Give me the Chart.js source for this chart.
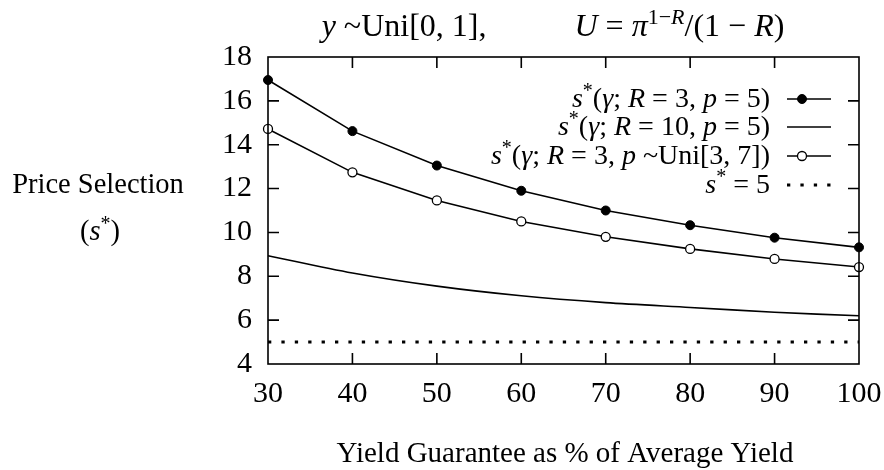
<!DOCTYPE html>
<html>
<head>
<meta charset="utf-8">
<script src="https://cdn.jsdelivr.net/npm/chart.js@4.4.1/dist/chart.umd.min.js"></script>
<style>
  html, body { margin: 0; padding: 0; background: #fff; }
</style>
</head>
<body>
<canvas id="priceChart" width="884" height="470"></canvas>
<script>
// data
const yieldGuarantee = [30, 40, 50, 60, 70, 80, 90, 100];
const sR3p5 = [16.95, 14.62, 13.05, 11.9, 11.0, 10.33, 9.76, 9.32];
const sR10p5 = [8.94, 8.15, 7.55, 7.11, 6.8, 6.58, 6.36, 6.2];
const sR3pUni = [14.72, 12.74, 11.46, 10.5, 9.8, 9.25, 8.79, 8.42];
const sFlat = [5, 5, 5, 5, 5, 5, 5, 5];
const xTicks = [30, 40, 50, 60, 70, 80, 90, 100];
const yTicks = [4, 6, 8, 10, 12, 14, 16, 18];

const FONT = '"Liberation Serif", "Times New Roman", serif';
const toPts = (vals) => vals.map((v, i) => ({ x: yieldGuarantee[i], y: v }));

// legend labels as rich text segments (i = italic, s = superscript)
const legendLabels = [
    [{ t: 's', i: 1 }, { t: '*', s: 1 }, { t: '(' }, { t: 'γ', i: 1 }, { t: '; ' }, { t: 'R', i: 1 }, { t: ' = 3, ' }, { t: 'p', i: 1 }, { t: ' = 5)' }],
    [{ t: 's', i: 1 }, { t: '*', s: 1 }, { t: '(' }, { t: 'γ', i: 1 }, { t: '; ' }, { t: 'R', i: 1 }, { t: ' = 10, ' }, { t: 'p', i: 1 }, { t: ' = 5)' }],
    [{ t: 's', i: 1 }, { t: '*', s: 1 }, { t: '(' }, { t: 'γ', i: 1 }, { t: '; ' }, { t: 'R', i: 1 }, { t: ' = 3, ' }, { t: 'p', i: 1 }, { t: ' ~Uni[3, 7])' }],
    [{ t: 's', i: 1 }, { t: '*', s: 1 }, { t: ' = 5' }]
];
const titleSegs = [
    { t: 'y', i: 1 }, { t: ' ~Uni[0, 1],' }, { t: '           ' }, { t: 'U', i: 1 }, { t: ' = ' },
    { t: 'π', i: 1 }, { t: '1−', s: 1 }, { t: 'R', i: 1, s: 1 }, { t: '/(1 − ' }, { t: 'R', i: 1 }, { t: ')' }
];

function drawRich(ctx, segs, x, y, size, align) {
    const fontFor = s => `${s.i ? 'italic ' : ''}${s.s ? Math.round(size * 0.7) : size}px ${FONT}`;
    let w = 0;
    segs.forEach(s => { ctx.font = fontFor(s); w += ctx.measureText(s.t).width; });
    let cx = align === 'right' ? x - w : (align === 'center' ? x - w / 2 : x);
    ctx.textAlign = 'left';
    ctx.textBaseline = 'alphabetic';
    segs.forEach(s => {
        ctx.font = fontFor(s);
        ctx.fillText(s.t, cx, s.s ? y - size * 0.36 : y);
        cx += ctx.measureText(s.t).width;
    });
}

// frame, inward ticks, titles and the legend
const decorations = {
    id: 'decorations',
    afterDraw(chart) {
        const { ctx, chartArea: a, scales: { x, y } } = chart;
        ctx.save();
        ctx.strokeStyle = '#000';
        ctx.fillStyle = '#000';
        ctx.lineWidth = 1.6;
        ctx.strokeRect(a.left, a.top, a.right - a.left, a.bottom - a.top);

        const tl = 11;
        ctx.beginPath();
        xTicks.slice(1, -1).forEach(v => {
            const px = x.getPixelForValue(v);
            ctx.moveTo(px, a.bottom); ctx.lineTo(px, a.bottom - tl);
            ctx.moveTo(px, a.top); ctx.lineTo(px, a.top + tl);
        });
        yTicks.slice(1, -1).forEach(v => {
            const py = y.getPixelForValue(v);
            ctx.moveTo(a.left, py); ctx.lineTo(a.left + tl, py);
            ctx.moveTo(a.right, py); ctx.lineTo(a.right - tl, py);
        });
        ctx.stroke();

        drawRich(ctx, titleSegs, 553, 36, 32, 'center');
        drawRich(ctx, [{ t: 'Price Selection' }], 98, 193, 28.5, 'center');
        drawRich(ctx, [{ t: '(' }, { t: 's', i: 1 }, { t: '*', s: 1 }, { t: ')' }], 100, 240, 28.5, 'center');
        drawRich(ctx, [{ t: 'Yield Guarantee as % of Average Yield' }], 565, 462, 29, 'center');

        // legend
        const baselines = [107, 135, 164, 193];
        chart.data.datasets.forEach((ds, i) => {
            const b = baselines[i];
            drawRich(ctx, legendLabels[i], 770, b, 28, 'right');
            const ly = b - 8;
            ctx.save();
            ctx.strokeStyle = '#000';
            ctx.lineWidth = ds.borderWidth;
            ctx.setLineDash(ds.borderDash || []);
            ctx.beginPath();
            ctx.moveTo(787, ly); ctx.lineTo(831, ly);
            ctx.stroke();
            ctx.restore();
            if (ds.pointRadius > 0) {
                ctx.beginPath();
                ctx.arc(802, ly, ds.pointRadius, 0, Math.PI * 2);
                ctx.fillStyle = ds.pointBackgroundColor;
                ctx.fill();
                ctx.lineWidth = ds.pointBorderWidth;
                ctx.stroke();
                ctx.fillStyle = '#000';
            }
        });
        ctx.restore();
    }
};

new Chart(document.getElementById('priceChart'), {
    type: 'line',
    data: {
        datasets: [
            {
                label: 's*(γ; R = 3, p = 5)',
                data: toPts(sR3p5),
                borderColor: '#000', borderWidth: 1.6,
                pointRadius: 4.5, pointBackgroundColor: '#000', pointBorderColor: '#000', pointBorderWidth: 1,
                tension: 0, clip: false
            },
            {
                label: 's*(γ; R = 10, p = 5)',
                data: toPts(sR10p5),
                borderColor: '#000', borderWidth: 1.6,
                pointRadius: 0, tension: 0.3, clip: false
            },
            {
                label: 's*(γ; R = 3, p ~Uni[3, 7])',
                data: toPts(sR3pUni),
                borderColor: '#000', borderWidth: 1.6,
                pointRadius: 4.5, pointBackgroundColor: '#fff', pointBorderColor: '#000', pointBorderWidth: 1.3,
                tension: 0, clip: false
            },
            {
                label: 's* = 5',
                data: toPts(sFlat),
                borderColor: '#000', borderWidth: 3, borderDash: [3.3, 10.1], borderCapStyle: 'butt',
                pointRadius: 0, tension: 0, clip: false
            }
        ]
    },
    options: {
        responsive: false,
        animation: false,
        layout: { padding: { left: 0, right: 25, top: 57, bottom: 0 } },
        plugins: {
            legend: { display: false },
            tooltip: { enabled: false }
        },
        scales: {
            x: {
                type: 'linear', min: 30, max: 100,
                afterFit: (s) => { s.height = 106; s.paddingLeft = 0; s.paddingRight = 0; },
                afterBuildTicks: (s) => { s.ticks = xTicks.map(v => ({ value: v })); },
                grid: { display: false, drawTicks: false },
                border: { display: false },
                ticks: { color: '#000', padding: 12, maxRotation: 0, font: { family: FONT, size: 30 } }
            },
            y: {
                min: 4, max: 18,
                afterFit: (s) => { s.width = 268; s.paddingTop = 0; s.paddingBottom = 0; },
                afterBuildTicks: (s) => { s.ticks = yTicks.map(v => ({ value: v })); },
                grid: { display: false, drawTicks: false },
                border: { display: false },
                ticks: { color: '#000', padding: 16, font: { family: FONT, size: 30 } }
            }
        }
    },
    plugins: [decorations]
});
</script>
</body>
</html>
